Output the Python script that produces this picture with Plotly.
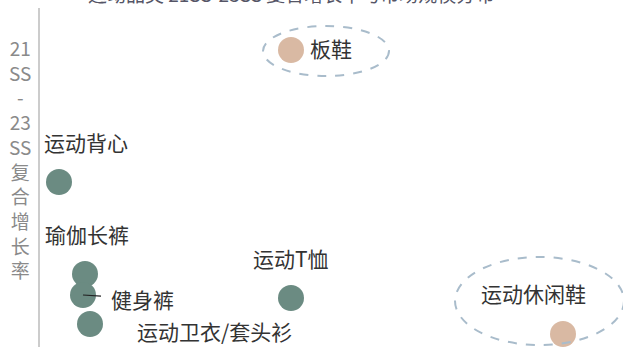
import plotly.graph_objects as go

# Data (arbitrary scale units)
categories = ["板鞋", "运动背心", "瑜伽长裤", "健身裤", "运动卫衣/套头衫", "运动T恤", "运动休闲鞋"]
x_values = [25.1, 1.9, 4.5, 4.3, 5.0, 25.1, 52.3]
y_values = [29.7, 16.5, 7.3, 5.2, 2.3, 4.9, 1.3]
groups = ["鞋", "服", "服", "服", "服", "服", "鞋"]
title_text = "运动品类 21SS-23SS 复合增长率与市场规模分布"
ytitle_parts = ["21", "SS", "-", "23", "SS", "复", "合", "增", "长", "率"]

GREEN = "#6b8b82"
TAN = "#d9b9a3"
colors = [TAN if g == "鞋" else GREEN for g in groups]

fig = go.Figure()
fig.add_trace(go.Scatter(
    x=x_values, y=y_values, mode="markers",
    marker=dict(size=26, color=colors, line=dict(width=0)),
    hoverinfo="text", text=categories, showlegend=False,
))

# label offsets in pixels (dx, dy) relative to marker
label_pos = {
    "板鞋": (40, 2),
    "运动背心": (27, 40),
    "瑜伽长裤": (2, 40),
    "健身裤": (59, -4),
    "运动卫衣/套头衫": (124, -7),
    "运动T恤": (0, 40),
    "运动休闲鞋": (-30, 41),
}
font = dict(family="Noto Sans CJK SC, sans-serif", size=21, color="#333333")
for cat, xv, yv in zip(categories, x_values, y_values):
    dx, dy = label_pos[cat]
    if cat == "健身裤":
        fig.add_annotation(x=xv, y=yv, xref="x", yref="y", text=cat,
                           showarrow=True, arrowhead=0, arrowwidth=1.2,
                           arrowcolor="#222222", ax=dx, ay=-dy, standoff=0,
                           borderpad=9, font=font)
    else:
        fig.add_annotation(x=xv, y=yv, xref="x", yref="y", text=cat,
                           showarrow=False, xshift=dx, yshift=dy, font=font)

# dashed ellipses
ell = dict(color="#a9bccb", width=2, dash="dash")
fig.add_shape(type="circle", xref="x", yref="y", x0=22.3, x1=34.9, y0=27.1, y1=32.1, line=ell)
fig.add_shape(type="circle", xref="x", yref="y", x0=41.5, x1=58.4, y0=0.2, y1=9.0, line=ell)

# vertical stacked y-axis title
fig.add_annotation(xref="paper", yref="paper", x=-0.035, y=0.555, xanchor="center", yanchor="middle",
                   text="<br>".join(ytitle_parts), showarrow=False,
                   font=dict(family="Noto Sans CJK SC, sans-serif", size=19, color="#8a8a8a"))

# title, mostly above the visible page
fig.add_annotation(xref="paper", yref="paper", x=0.43, y=1.0, xanchor="center", yanchor="bottom",
                   yshift=-1, text=title_text, showarrow=False,
                   font=dict(family="Noto Sans CJK SC, sans-serif", size=19, color="#555566"))

fig.update_layout(
    width=623, height=347,
    margin=dict(l=40, r=0, t=8, b=0),
    plot_bgcolor="white", paper_bgcolor="white",
    xaxis=dict(range=[0, 58.3], showgrid=False, zeroline=False, showticklabels=False,
               showline=False, ticks=""),
    yaxis=dict(range=[0, 33.9], showgrid=False, zeroline=False, showticklabels=False,
               showline=True, linecolor="#cccccc", linewidth=2, ticks=""),
)

fig.write_html("out.html", config={"displayModeBar": False},
               post_script="document.body.style.margin='0';")
